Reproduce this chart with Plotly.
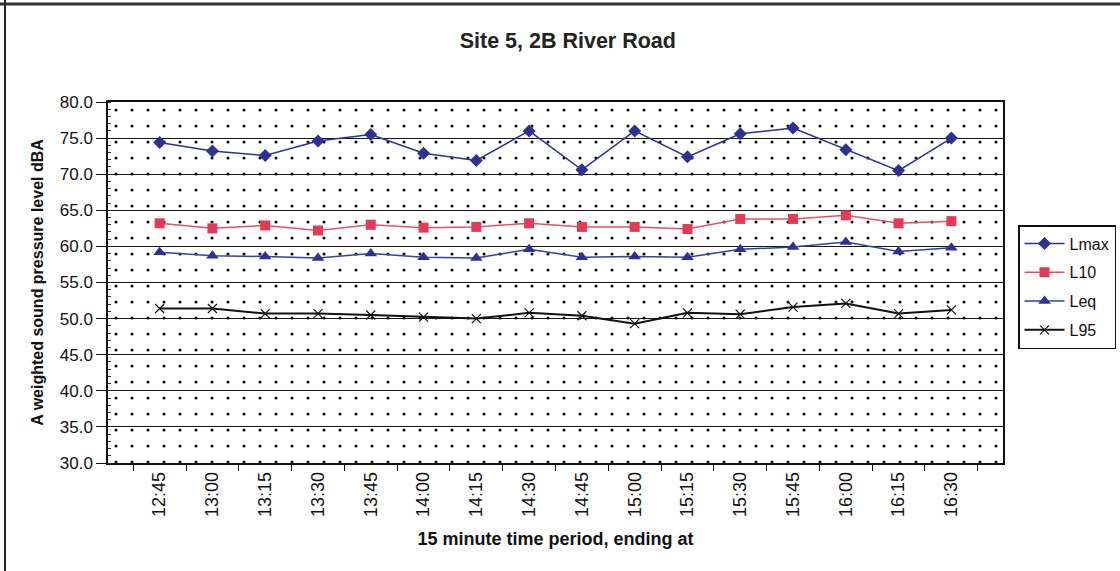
import plotly.graph_objects as go

times = ["12:45", "13:00", "13:15", "13:30", "13:45", "14:00", "14:15", "14:30",
         "14:45", "15:00", "15:15", "15:30", "15:45", "16:00", "16:15", "16:30"]
lmax = [74.4, 73.2, 72.6, 74.6, 75.5, 72.9, 71.9, 76.0, 70.6, 76.0, 72.4, 75.6, 76.4, 73.4, 70.5, 75.0]
l10 = [63.2, 62.5, 62.9, 62.2, 63.0, 62.6, 62.7, 63.2, 62.7, 62.7, 62.4, 63.8, 63.8, 64.3, 63.2, 63.5]
leq = [59.2, 58.7, 58.6, 58.4, 59.0, 58.5, 58.4, 59.6, 58.5, 58.6, 58.5, 59.6, 59.9, 60.6, 59.3, 59.8]
l95 = [51.4, 51.4, 50.7, 50.7, 50.5, 50.2, 50.0, 50.8, 50.4, 49.3, 50.8, 50.6, 51.6, 52.1, 50.7, 51.2]

W, H = 1120, 571
ML, MR, MT, MB = 108, 117, 102, 108
FONT = "Liberation Sans, Arial, sans-serif"

fig = go.Figure()

# dotted plot-area background (decoration) on hidden base axes
fig.add_trace(go.Bar(
    x=[0.5], y=[1], width=[1], xaxis="x", yaxis="y", showlegend=False, hoverinfo="skip",
    marker=dict(color="rgba(0,0,0,0)", line=dict(width=0),
                pattern=dict(shape=".", fgcolor="#111111", bgcolor="rgba(0,0,0,0)",
                             size=16, solidity=0.03, fillmode="replace")),
))

series = [
    ("Lmax", lmax, "#2E3192", "#2E3192", "diamond", 10, 1.5),
    ("L10", l10, "#E8506A", "#E33B55", "square", 10, 1.5),
    ("Leq", leq, "#3342A0", "#2E3192", "triangle-up", 11, 1.5),
    ("L95", l95, "#111111", "#111111", "x-thin", 9, 2),
]
for i, (name, vals, lc, mc, sym, ms, lw) in enumerate(series):
    mk = dict(symbol=sym, size=ms, color=mc)
    if sym == "x-thin":
        mk["line"] = dict(color=mc, width=1.2)
    fig.add_trace(go.Scatter(
        x=times, y=vals, name=name, mode="lines+markers", xaxis="x2", yaxis="y2",
        legendgroup=f"g{i}", line=dict(color=lc, width=lw), marker=mk,
    ))

pw = W - ML - MR
ph = H - MT - MB
def px2x(p):
    return (p - ML) / pw
def py2y(p):
    return 1 - (p - MT) / ph

fig.update_layout(
    width=W, height=H,
    margin=dict(l=ML, r=MR, t=MT, b=MB, autoexpand=False),
    paper_bgcolor="white", plot_bgcolor="white",
    font=dict(family=FONT, size=15, color="#111111"),
    title=dict(text="<b>Site 5, 2B River Road</b>", x=0.507, xanchor="center",
               y=1 - 40 / H, yanchor="middle", font=dict(size=21.5, color="#222222")),
    bargap=0,
    xaxis=dict(range=[0, 1], visible=False, fixedrange=True),
    yaxis=dict(range=[0, 1], visible=False, fixedrange=True),
    xaxis2=dict(overlaying="x", side="bottom", type="category",
                showline=True, linecolor="#111111", linewidth=1.5, mirror=True,
                ticks="outside", ticklen=6, tickcolor="#111111", tickson="boundaries",
                tickangle=-90, tickfont=dict(size=18, color="#111111"),
                showgrid=False,
                title=dict(text="<b>15 minute time period, ending at</b>",
                           font=dict(size=18, color="#111111"), standoff=16)),
    yaxis2=dict(overlaying="y", side="left", range=[30, 80], dtick=5, tickformat=".1f",
                showline=True, linecolor="#111111", linewidth=1.5, mirror=True,
                ticks="outside", ticklen=10, tickcolor="#111111",
                minor=dict(dtick=1, ticks="inside", ticklen=3, tickcolor="#333333", showgrid=False),
                showgrid=True, gridcolor="#1a1414", gridwidth=1.3,
                tickfont=dict(size=17, color="#111111"),
                title=dict(text="<b>A weighted sound pressure level dBA</b>",
                           font=dict(size=16, color="#111111"), standoff=12)),
    legend=dict(x=px2x(1018), y=py2y(225), xanchor="left", yanchor="top",
                bordercolor="#111111", borderwidth=1.5, bgcolor="white",
                font=dict(size=16, color="#111111"), tracegroupgap=5,
                itemwidth=40),
    shapes=[
        dict(type="line", xref="paper", yref="paper", x0=px2x(5), x1=px2x(5),
             y0=py2y(0), y1=py2y(H), line=dict(color="#222222", width=2)),
        dict(type="line", xref="paper", yref="paper", x0=px2x(0), x1=px2x(W),
             y0=py2y(4), y1=py2y(4), line=dict(color="#333333", width=3)),
    ],
)

fig.write_html("out.html", config={"displayModeBar": False},
               post_script="document.body.style.margin='0';")
